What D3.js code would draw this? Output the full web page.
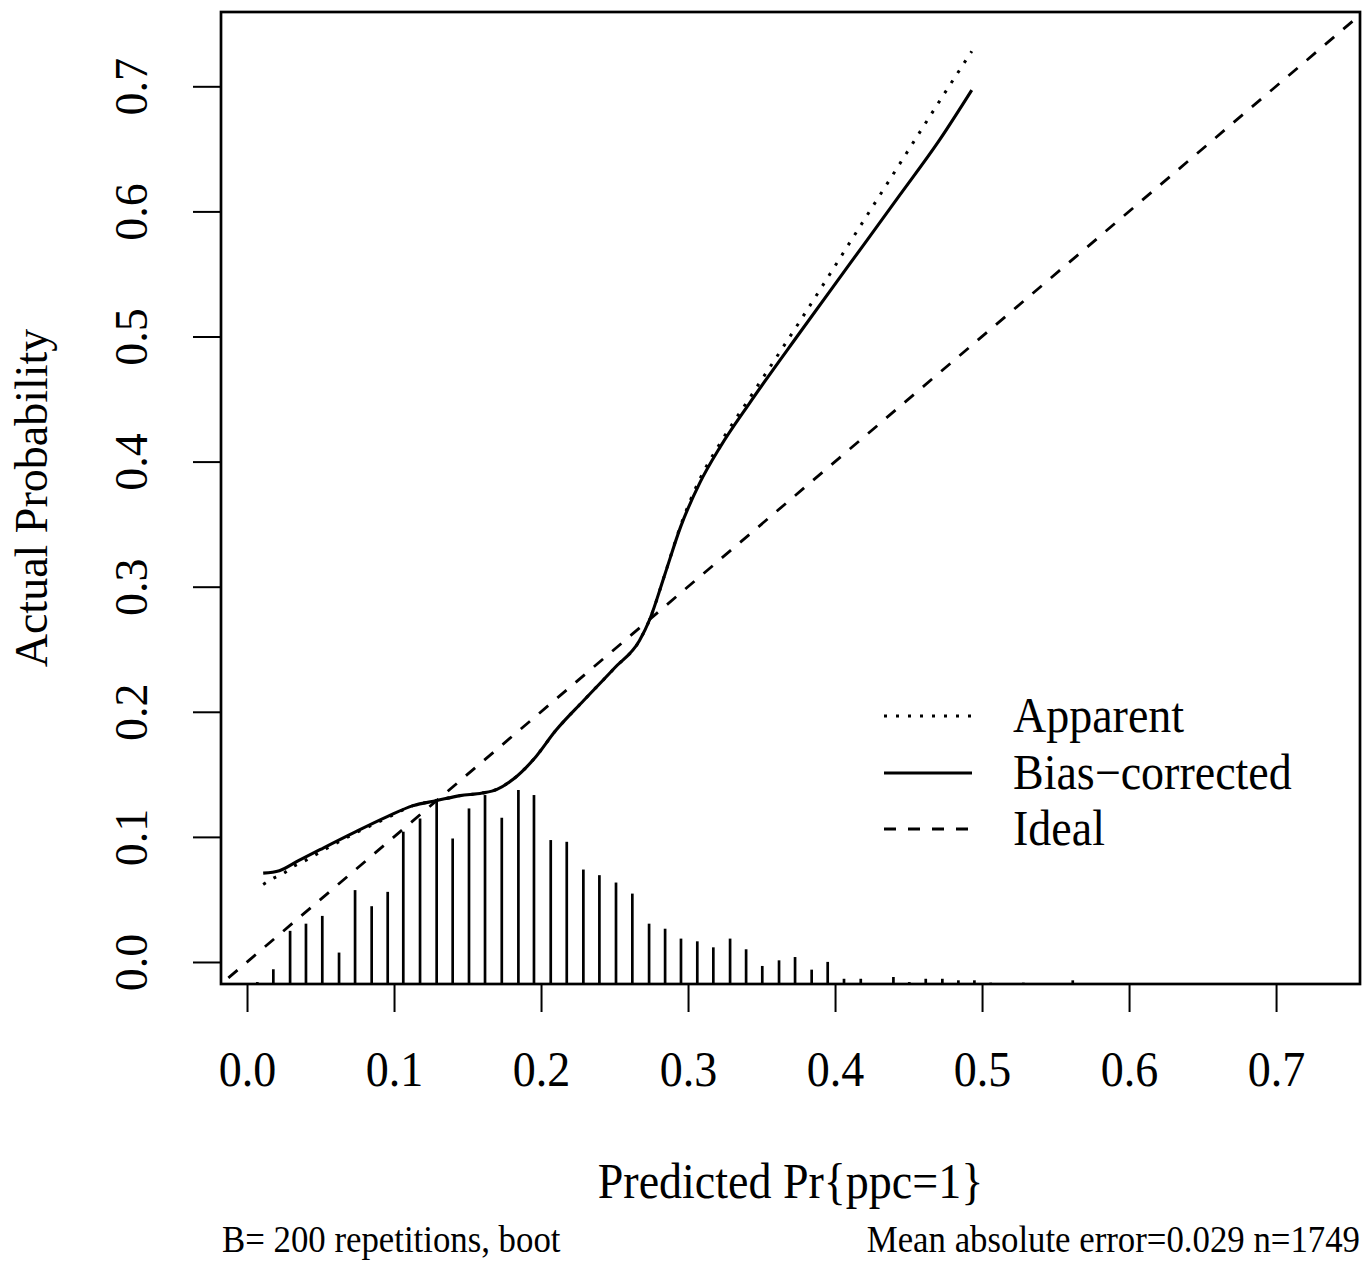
<!DOCTYPE html>
<html>
<head>
<meta charset="utf-8">
<script src="https://cdn.jsdelivr.net/npm/d3@7/dist/d3.min.js"></script>
<style>
  html, body { margin: 0; padding: 0; background: #fff; }
  svg text { font-family: "Liberation Serif", "DejaVu Serif", serif; fill: #000; }
</style>
</head>
<body>
<svg id="chart" width="1370" height="1262"></svg>
<script>
// ---- data ----
const xTicks = [0.0, 0.1, 0.2, 0.3, 0.4, 0.5, 0.6, 0.7];
const yTicks = [0.0, 0.1, 0.2, 0.3, 0.4, 0.5, 0.6, 0.7];

const biasX = [0.011, 0.022, 0.035, 0.050, 0.072, 0.095, 0.113, 0.129, 0.145, 0.160, 0.170, 0.181, 0.195, 0.210, 0.229, 0.250, 0.267, 0.274, 0.284, 0.295, 0.308, 0.322, 0.342, 0.376, 0.410, 0.444, 0.471, 0.493];
const biasY = [0.071, 0.073, 0.081, 0.090, 0.103, 0.116, 0.125, 0.129, 0.133, 0.135, 0.138, 0.146, 0.162, 0.185, 0.209, 0.235, 0.257, 0.274, 0.309, 0.348, 0.383, 0.412, 0.447, 0.503, 0.558, 0.613, 0.657, 0.697];

const appX = [0.011, 0.018, 0.025, 0.031, 0.038, 0.050, 0.072, 0.095, 0.113, 0.129, 0.145, 0.160, 0.170, 0.181, 0.195, 0.210, 0.229, 0.250, 0.267, 0.274, 0.284, 0.295, 0.308, 0.322, 0.342, 0.376, 0.410, 0.444, 0.471, 0.493];
const appY = [0.062, 0.067, 0.071, 0.076, 0.080, 0.088, 0.102, 0.115, 0.125, 0.129, 0.133, 0.135, 0.138, 0.146, 0.162, 0.185, 0.209, 0.235, 0.257, 0.274, 0.309, 0.349, 0.386, 0.415, 0.451, 0.512, 0.575, 0.638, 0.688, 0.728];

const idealX = [-0.05, 0.8];

// rug / histogram of predicted probabilities (relative frequency)
const spikeX = [0.0070, 0.0179, 0.0293, 0.0401, 0.0512, 0.0626, 0.0735, 0.0848, 0.0957, 0.1063, 0.1177, 0.1290, 0.1399, 0.1510, 0.1619, 0.1733, 0.1846, 0.1952, 0.2066, 0.2175, 0.2288, 0.2397, 0.2510, 0.2621, 0.2735, 0.2844, 0.2952, 0.3063, 0.3172, 0.3286, 0.3395, 0.3505, 0.3619, 0.3728, 0.3841, 0.3950, 0.4061, 0.4175, 0.4397, 0.4505, 0.4617, 0.4730, 0.4839, 0.4948, 0.5059, 0.5281, 0.5617];
const spikeFreq = [0.010, 0.076, 0.274, 0.311, 0.351, 0.162, 0.484, 0.401, 0.475, 0.785, 0.853, 0.954, 0.750, 0.905, 0.974, 0.857, 1.000, 0.974, 0.742, 0.733, 0.590, 0.561, 0.523, 0.466, 0.311, 0.285, 0.234, 0.220, 0.189, 0.234, 0.179, 0.093, 0.122, 0.139, 0.074, 0.114, 0.027, 0.027, 0.036, 0.010, 0.027, 0.027, 0.019, 0.019, 0.007, 0.007, 0.019];

const legendLabels = ["Apparent", "Bias\u2212corrected", "Ideal"];
const xTitle = "Predicted Pr{ppc=1}";
const yTitle = "Actual Probability";
const subLeft = "B= 200 repetitions, boot";
const subRight = "Mean absolute error=0.029 n=1749";

// ---- layout ----
const L = 221, R = 1360, T = 12, B = 984;
const FS = 46, SY = 1.08;
const svg = d3.select("#chart");
const x = d3.scaleLinear().domain([-0.0177, 0.7571]).range([L, R]);
const y = d3.scaleLinear().domain([-0.0176, 0.7594]).range([B, T]);
const hScale = d3.scaleLinear().domain([0, 1]).range([0, 194]);

svg.append("defs").append("clipPath").attr("id", "clip")
  .append("rect").attr("x", L).attr("y", T).attr("width", R - L).attr("height", B - T);

const plot = svg.append("g").attr("clip-path", "url(#clip)");

// spikes
plot.selectAll("line.spike")
  .data(spikeX.map((v, i) => ({ x: v, f: spikeFreq[i] })))
  .join("line")
  .attr("class", "spike")
  .attr("x1", d => x(d.x)).attr("x2", d => x(d.x))
  .attr("y1", B).attr("y2", d => B - hScale(d.f))
  .attr("stroke", "#000").attr("stroke-width", 2.7);

const line = d3.line().x(d => x(d[0])).y(d => y(d[1])).curve(d3.curveMonotoneX);

// ideal
plot.append("path")
  .attr("d", d3.line().x(d => x(d)).y(d => y(d))(idealX))
  .attr("fill", "none").attr("stroke", "#000").attr("stroke-width", 2.8)
  .attr("stroke-dasharray", "12,12");

// apparent
plot.append("path")
  .attr("d", line(appX.map((v, i) => [v, appY[i]])))
  .attr("fill", "none").attr("stroke", "#000").attr("stroke-width", 3)
  .attr("stroke-dasharray", "3,9");

// bias-corrected
plot.append("path")
  .attr("d", line(biasX.map((v, i) => [v, biasY[i]])))
  .attr("fill", "none").attr("stroke", "#000").attr("stroke-width", 3.1);

// box
svg.append("rect").attr("x", L).attr("y", T).attr("width", R - L).attr("height", B - T)
  .attr("fill", "none").attr("stroke", "#000").attr("stroke-width", 2.7);

// x axis
const gx = svg.append("g").attr("transform", `translate(0,${B + 1})`)
  .call(d3.axisBottom(x).tickValues(xTicks).tickFormat(d3.format(".1f")).tickSize(27));
gx.select(".domain").remove();
gx.selectAll(".tick line").attr("stroke", "#000").attr("stroke-width", 2);
gx.selectAll(".tick text").attr("y", null).attr("dy", null)
  .attr("transform", `translate(0,101) scale(1,${SY})`)
  .style("font-size", FS + "px").style("font-family", "'Liberation Serif', serif").attr("fill", "#000");

// y axis
const gy = svg.append("g").attr("transform", `translate(${L},0)`)
  .call(d3.axisLeft(y).tickValues(yTicks).tickFormat(d3.format(".1f")).tickSize(28));
gy.select(".domain").remove();
gy.selectAll(".tick line").attr("stroke", "#000").attr("stroke-width", 2);
gy.selectAll(".tick text")
  .attr("x", null).attr("dy", null)
  .attr("text-anchor", "middle")
  .attr("transform", "translate(-74,0) rotate(-90)")
  .style("font-size", FS + "px").style("font-family", "'Liberation Serif', serif").attr("fill", "#000");

// titles
svg.append("text").attr("transform", `translate(${(L + R) / 2},1198) scale(1,${SY})`)
  .attr("text-anchor", "middle").style("font-size", FS + "px").text(xTitle);
svg.append("text").attr("transform", `translate(47,${(T + B) / 2}) rotate(-90)`)
  .attr("text-anchor", "middle").style("font-size", FS + "px").text(yTitle);

svg.append("text").attr("transform", `translate(222,1252) scale(1,${SY})`)
  .style("font-size", "34.8px").text(subLeft);
svg.append("text").attr("transform", `translate(1360,1252) scale(1,${SY})`)
  .attr("text-anchor", "end").style("font-size", "34.8px").text(subRight);

// legend
const legY = [716, 773, 829];
const legDash = ["3,9", null, "12,12"];
legendLabels.forEach((lab, i) => {
  const ln = svg.append("line").attr("x1", 884).attr("x2", 972)
    .attr("y1", legY[i]).attr("y2", legY[i])
    .attr("stroke", "#000").attr("stroke-width", 3);
  if (legDash[i]) ln.attr("stroke-dasharray", legDash[i]);
  svg.append("text").attr("transform", `translate(1013,${legY[i] + 16}) scale(1,${SY})`)
    .style("font-size", FS + "px").text(lab);
});
</script>
</body>
</html>
